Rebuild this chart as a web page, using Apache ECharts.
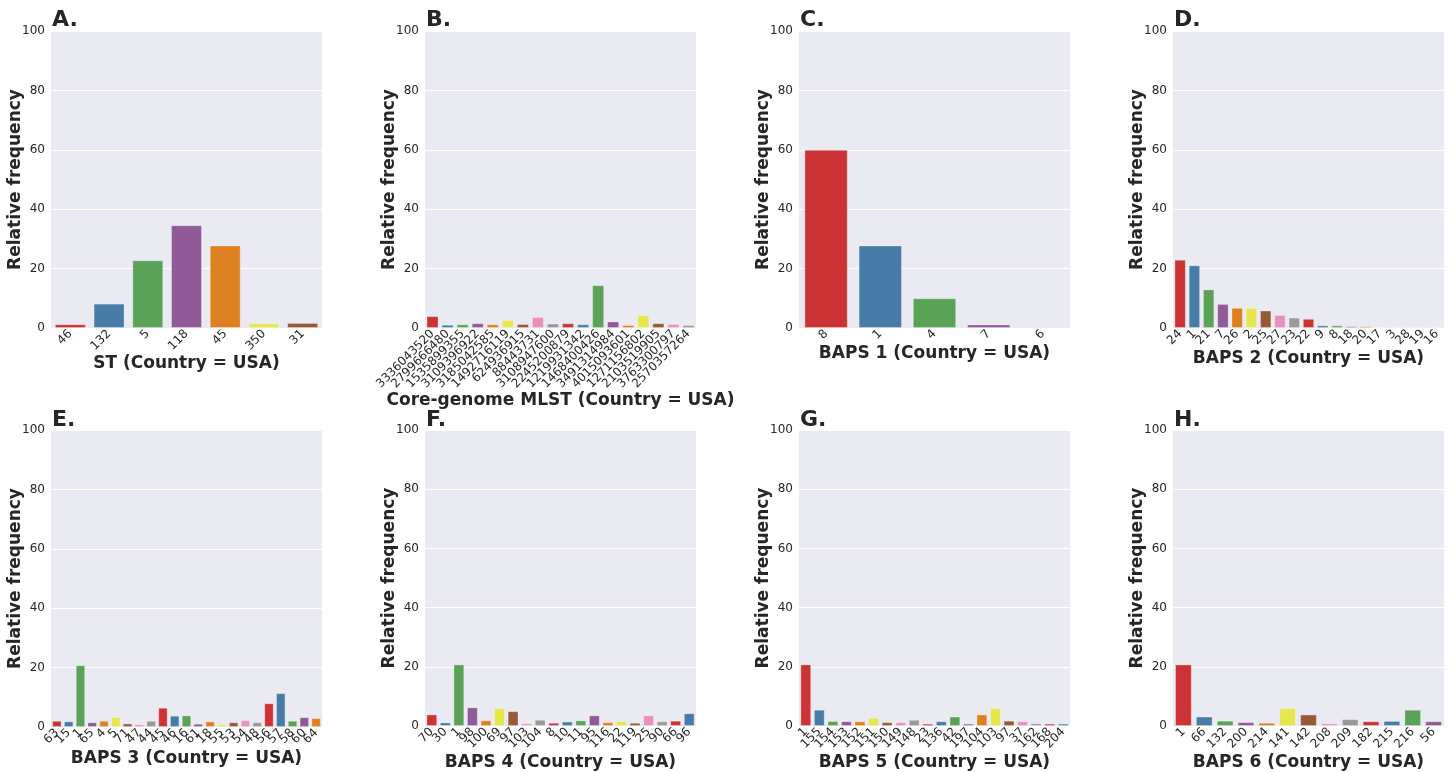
<!DOCTYPE html>
<html>
<head>
<meta charset="utf-8">
<script src="https://cdn.jsdelivr.net/npm/echarts@6/dist/echarts.min.js"></script>
<style>
html,body{margin:0;padding:0;background:#fff;}
#chart{width:1448px;height:772px;}
</style>
</head>
<body>
<div id="chart"></div>
<script>
// ---- Data ----
const catsA = ['46','132','5','118','45','350','31'];
const valsA = [1.25, 8.2, 22.8, 34.6, 27.8, 1.6, 1.7];

const catsB = ['3336043520','2799666480','1535899355','3109396922','3185042585','1492716119','624936915','88443731','3108947600','2245200879','1219931342','1468400426','3491314984','4015093601','1271156802','2103519905','3763300797','2570357264'];
const valsB = [4.0, 1.1, 1.25, 1.6, 1.25, 2.7, 1.35, 3.7, 1.5, 1.6, 1.25, 14.4, 2.2, 1.0, 4.3, 1.6, 1.35, 1.0];

const catsC = ['8','1','4','7','6'];
const valsC = [60.0, 27.8, 10.0, 1.2, 0.4];

const catsD = ['24','1','21','7','26','2','25','27','23','22','9','8','18','20','17','3','28','19','16'];
const valsD = [23.0, 21.1, 13.0, 8.1, 6.8, 6.8, 5.9, 4.4, 3.5, 3.1, 0.9, 0.9, 0.6, 0.6, 0.3, 0.2, 0.2, 0.1, 0.1];

const catsE = ['63','15','1','65','4','5','71','47','44','45','46','16','61','18','55','53','54','48','56','57','58','60','64'];
const valsE = [2.1, 1.9, 20.8, 1.6, 2.1, 3.4, 1.2, 0.9, 2.1, 6.5, 3.8, 3.9, 1.1, 1.9, 0.9, 1.6, 2.3, 1.6, 8.0, 11.4, 2.1, 3.3, 3.0];

const catsF = ['70','30','1','98','100','69','97','103','104','8','10','11','95','116','22','119','25','90','66','96'];
const valsF = [3.9, 1.2, 20.8, 6.3, 1.9, 6.0, 5.0, 0.9, 2.1, 1.1, 1.5, 1.9, 3.6, 1.3, 1.6, 1.1, 3.6, 1.6, 1.8, 4.3];

const catsG = ['1','155','154','153','152','151','150','149','148','23','136','42','197','104','103','97','37','162','168','204'];
const valsG = [20.8, 5.5, 1.7, 1.6, 1.6, 2.8, 1.3, 1.3, 2.1, 0.8, 1.6, 3.2, 0.8, 3.9, 6.0, 1.8, 1.6, 0.9, 0.8, 0.8];

const catsH = ['1','66','132','200','214','141','142','208','209','182','215','216','56'];
const valsH = [20.8, 3.2, 1.8, 1.3, 1.1, 6.0, 3.9, 0.9, 2.3, 1.6, 1.7, 5.5, 1.6];

const yTicks = [0, 20, 40, 60, 80, 100];

const panels = [
  {letter:'A.', cats:catsA, vals:valsA, xname:'ST (Country = USA)', gap:27},
  {letter:'B.', cats:catsB, vals:valsB, xname:'Core-genome MLST (Country = USA)', gap:64},
  {letter:'C.', cats:catsC, vals:valsC, xname:'BAPS 1 (Country = USA)', gap:17},
  {letter:'D.', cats:catsD, vals:valsD, xname:'BAPS 2 (Country = USA)', gap:22},
  {letter:'E.', cats:catsE, vals:valsE, xname:'BAPS 3 (Country = USA)', gap:23},
  {letter:'F.', cats:catsF, vals:valsF, xname:'BAPS 4 (Country = USA)', gap:28},
  {letter:'G.', cats:catsG, vals:valsG, xname:'BAPS 5 (Country = USA)', gap:28},
  {letter:'H.', cats:catsH, vals:valsH, xname:'BAPS 6 (Country = USA)', gap:28}
];

const palette = ['#CB3335','#477CA8','#59A256','#905998','#DF8020','#E6E64D','#965A38','#E890BE','#999999'];
const FONT = 'DejaVu Sans';
const TXT = '#262626';

const lefts = [51, 425, 799, 1173];
const tops = [31, 430];
const W = 271, H = 297;

const grids = [], xAxes = [], yAxes = [], series = [], graphics = [];
panels.forEach((p, i) => {
  const col = i % 4, row = Math.floor(i / 4);
  grids.push({left: lefts[col], top: tops[row], width: W, height: H, show: true, backgroundColor: '#EAEAF2', borderWidth: 0});
  xAxes.push({
    type: 'category', gridIndex: i, data: p.cats,
    axisLine: {show: false}, axisTick: {show: false},
    axisLabel: {rotate: 45, interval: 0, fontSize: 12, color: TXT, fontFamily: FONT, margin: 4},
    name: p.xname, nameLocation: 'middle', nameGap: p.gap, nameMoveOverlap: false,
    nameTextStyle: {fontSize: 17, fontWeight: 'bold', color: TXT, fontFamily: FONT, verticalAlign: 'top'}
  });
  yAxes.push({
    type: 'value', gridIndex: i, min: yTicks[0], max: yTicks[yTicks.length - 1], interval: 20,
    axisLine: {show: false}, axisTick: {show: false},
    splitLine: {show: true, lineStyle: {color: '#ffffff', width: 1}},
    axisLabel: {fontSize: 12, color: TXT, fontFamily: FONT, margin: 6},
    name: 'Relative frequency', nameLocation: 'middle', nameGap: 35, nameRotate: 90, nameMoveOverlap: false,
    nameTextStyle: {fontSize: 17, fontWeight: 'bold', color: TXT, fontFamily: FONT, verticalAlign: 'middle'}
  });
  series.push({
    type: 'bar', xAxisIndex: i, yAxisIndex: i, data: p.vals,
    barCategoryGap: '20%',
    itemStyle: {color: (d) => palette[d.dataIndex % palette.length], borderColor: 'rgba(255,255,255,0.3)', borderWidth: 1},
    emphasis: {disabled: true}, animation: false
  });
  graphics.push({
    type: 'text', left: lefts[col] + 1, top: tops[row] - (row === 0 ? 22 : 21),
    style: {text: p.letter, font: 'bold 22px "DejaVu Sans"', fill: TXT}
  });
});

const chart = echarts.init(document.getElementById('chart'), null, {renderer: 'canvas'});
chart.setOption({
  animation: false,
  backgroundColor: '#ffffff',
  grid: grids, xAxis: xAxes, yAxis: yAxes, series: series, graphic: graphics
});
</script>
</body>
</html>
